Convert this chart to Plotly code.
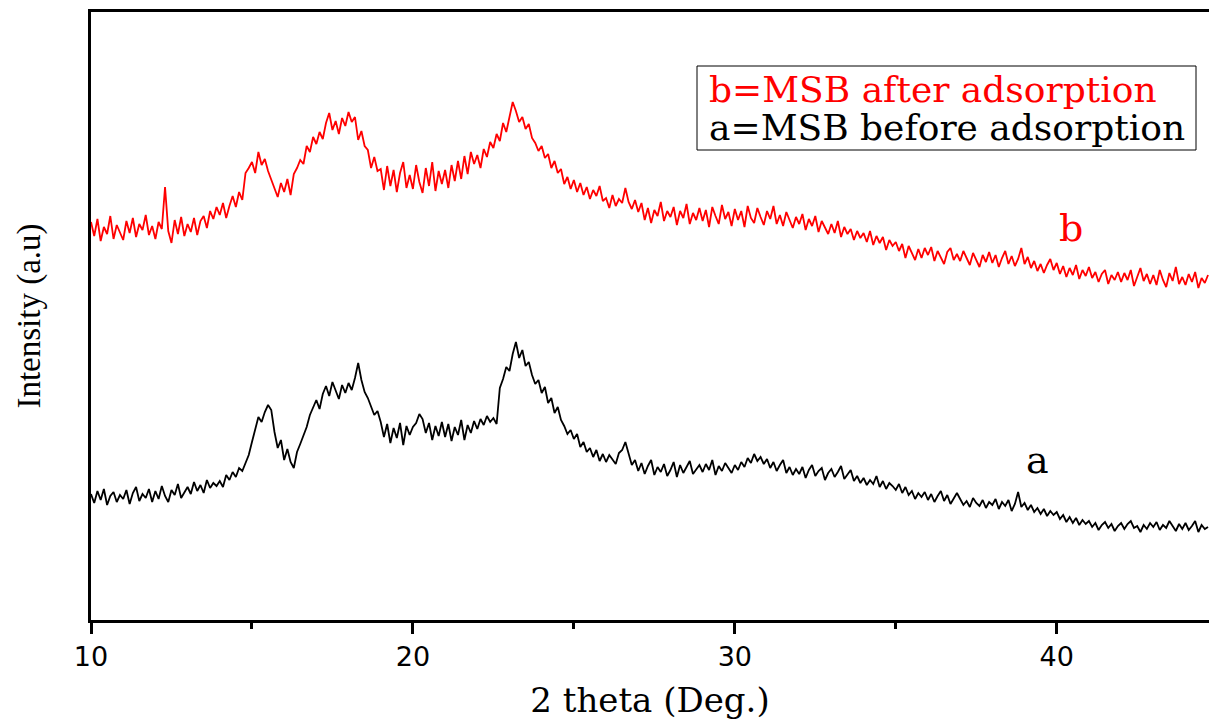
import numpy as np
import plotly.graph_objects as go

# 2-theta sampling (degrees)
two_theta_start = 10.0
two_theta_step = 0.1

# b = MSB after adsorption (red), intensity a.u., one row per degree
msb_after = [
    398, 384, 401, 379, 393, 386, 404, 381, 395, 388,
    380, 399, 387, 402, 383, 396, 390, 405, 385, 394,
    381, 398, 391, 433, 389, 377, 400, 386, 403, 384,
    396, 388, 402, 385, 399, 404, 392, 409, 401, 413,
    405, 417, 402, 414, 424, 413, 428, 420, 447, 452,
    458, 447, 468, 455, 461, 449, 440, 431, 423, 437,
    428, 441, 425, 446, 452, 460, 456, 474, 468, 483,
    476, 488, 481, 497, 507, 490, 499, 486, 502, 494,
    508, 498, 503, 480, 489, 474, 470, 452, 463, 449,
    451, 430, 454, 434, 450, 428, 447, 458, 432, 445,
    431, 455, 438, 427, 452, 434, 458, 429, 449, 436,
    450, 432, 455, 439, 459, 441, 464, 446, 468, 456,
    465, 452, 471, 463, 478, 472, 486, 479, 497, 488,
    505, 518, 509, 498, 503, 491, 496, 482, 477, 469,
    474, 462, 466, 452, 459, 447, 451, 436, 443, 431,
    440, 428, 437, 425, 433, 421, 430, 424, 434, 419,
    422, 412, 425, 414, 421, 417, 432, 418, 411, 420,
    408, 417, 400, 412, 397, 410, 404, 418, 399, 409,
    403, 413, 395, 409, 402, 416, 396, 407, 400, 412,
    399, 410, 393, 413, 404, 396, 415, 401, 408, 394,
    411, 400, 409, 393, 414, 402, 397, 412, 403, 395,
    409, 401, 414, 396, 405, 394, 408, 399, 392, 403,
    396, 406, 390, 401, 394, 404, 388, 399, 393, 386,
    396, 387, 399, 383, 393, 386, 391, 380, 389, 382,
    387, 378, 389, 375, 384, 377, 383, 370, 380, 374,
    378, 369, 376, 362, 374, 366, 360, 371, 362, 372,
    365, 373, 359, 369, 363, 356, 368, 372, 360, 366,
    359, 369, 362, 355, 367, 360, 353, 365, 358, 368,
    357, 365, 353, 362, 369, 356, 364, 354, 361, 372,
    356, 363, 352, 359, 349, 356, 347, 355, 361, 350,
    357, 346, 354, 343, 352, 345, 355, 341, 350, 344,
    353, 342, 348, 338, 346, 350, 336, 345, 340, 348,
    338, 347, 340, 350, 334, 343, 352, 339, 346, 336,
    345, 335, 350, 340, 333, 347, 339, 353, 336, 343,
    335, 346, 338, 348, 332, 342, 337, 345,
]

# a = MSB before adsorption (black), intensity a.u., one row per degree
msb_before = [
    126, 117, 129, 120, 131, 115, 124, 128, 118, 125,
    121, 130, 116, 127, 133, 119, 126, 122, 131, 118,
    129, 121, 134, 124, 118, 130, 125, 136, 122, 128,
    133, 126, 138, 129, 135, 127, 140, 132, 137, 134,
    139, 133, 145, 140, 148, 143, 152, 149, 158, 165,
    178, 192, 203, 198, 208, 215, 210, 188, 172, 180,
    160, 171, 158, 152, 168, 176, 184, 193, 205, 213,
    220, 211, 226, 234, 224, 238, 229, 221, 235, 227,
    237, 230, 242, 257, 240, 228, 222, 214, 205, 209,
    198, 183, 196, 177, 192, 182, 197, 175, 194, 185,
    193, 197, 206, 201, 187, 197, 180, 194, 184, 198,
    183, 196, 179, 193, 185, 200, 180, 195, 187, 199,
    191, 201, 195, 204, 198, 202, 196, 232, 241, 253,
    249, 266, 278, 262, 270, 254, 258, 245, 236, 240,
    227, 233, 217, 222, 207, 213, 200, 194, 186, 190,
    181, 186, 173, 178, 168, 172, 163, 170, 159, 166,
    158, 165, 161, 156, 167, 170, 178, 165, 155, 160,
    149, 157, 146, 154, 160, 145, 153, 148, 156, 144,
    150, 158, 143, 155, 147, 153, 159, 146, 151, 155,
    148, 156, 150, 160, 145, 154, 149, 157, 152, 147,
    155, 150, 158, 153, 162, 157, 166, 159, 163, 156,
    161, 152, 158, 149, 155, 160, 147, 153, 145, 151,
    146, 153, 142, 150, 155, 144, 149, 152, 140, 147,
    151, 143, 148, 154, 141, 146, 150, 139, 144, 137,
    142, 135, 140, 136, 144, 133, 139, 131, 137, 134,
    130, 136, 127, 133, 125, 129, 121, 127, 123, 128,
    120, 126, 118, 124, 129, 119, 125, 116, 122, 127,
    121, 115, 119, 113, 122, 117, 114, 120, 112, 118,
    115, 121, 111, 118, 114, 120, 109, 116, 128, 113,
    117, 110, 115, 108, 112, 106, 111, 104, 109, 105,
    108, 101, 105, 98, 103, 97, 102, 95, 100, 96,
    99, 93, 97, 90, 95, 98, 92, 96, 89, 94,
    97, 91, 96, 99, 92, 94, 88, 95, 91, 97,
    93, 98, 90, 95, 92, 99, 94, 89, 96, 91,
    97, 90, 94, 99, 88, 95, 91, 93,
]

x_ticks = [10, 20, 30, 40]
x_tick_labels = ["10", "20", "30", "40"]

legend_after = "b=MSB after adsorption"
legend_before = "a=MSB before adsorption"
label_after = "b"
label_before = "a"
label_after_pos = (40.43, 392)
label_before_pos = (39.39, 160)

x_after = np.round(two_theta_start + two_theta_step * np.arange(len(msb_after)), 2)
x_before = np.round(two_theta_start + two_theta_step * np.arange(len(msb_before)), 2)

fig = go.Figure()
fig.add_trace(go.Scatter(x=x_before, y=msb_before, mode="lines",
                         line=dict(color="black", width=1.8), name=legend_before,
                         showlegend=False))
fig.add_trace(go.Scatter(x=x_after, y=msb_after, mode="lines",
                         line=dict(color="#ff0000", width=1.8), name=legend_after,
                         showlegend=False))

serif = "DejaVu Serif"

fig.add_annotation(x=label_after_pos[0], y=label_after_pos[1], text=label_after,
                   showarrow=False, font=dict(family=serif, size=38, color="#ff0000"))
fig.add_annotation(x=label_before_pos[0], y=label_before_pos[1], text=label_before,
                   showarrow=False, font=dict(family=serif, size=38, color="black"))

# legend box (paper coordinates derived from the plot frame)
px_w, px_h, left_px, bottom_px = 1118, 608, 91, 620
def px_x(p):
    return (p - left_px) / px_w
def px_y(p):
    return (bottom_px - p) / px_h

fig.add_shape(type="rect", xref="paper", yref="paper",
              x0=px_x(697), x1=px_x(1196), y0=px_y(150), y1=px_y(66),
              line=dict(color="black", width=1), fillcolor="white", layer="above")
fig.add_annotation(xref="paper", yref="paper", x=px_x(707), y=px_y(89),
                   xanchor="left", yanchor="middle", showarrow=False, text=legend_after,
                   font=dict(family=serif, size=36, color="#ff0000"))
fig.add_annotation(xref="paper", yref="paper", x=px_x(707), y=px_y(127),
                   xanchor="left", yanchor="middle", showarrow=False, text=legend_before,
                   font=dict(family=serif, size=36, color="black"))

fig.update_layout(
    width=1209, height=720,
    margin=dict(l=91, r=0, t=12, b=100),
    plot_bgcolor="white", paper_bgcolor="white",
    showlegend=False,
)
fig.update_xaxes(
    range=[10, 44.73], tickvals=x_ticks, ticktext=x_tick_labels,
    ticks="outside", ticklen=11, tickwidth=3, tickcolor="black",
    minor=dict(dtick=5, tick0=10, ticks="outside", ticklen=6, tickwidth=3, tickcolor="black"),
    showline=True, linewidth=3, linecolor="black", mirror=True,
    showgrid=False, zeroline=False,
    tickfont=dict(family="DejaVu Sans", size=27, color="black"),
    title=dict(text="2 theta (Deg.)", font=dict(family=serif, size=34, color="black"), standoff=19),
)
fig.update_yaxes(
    range=[0, 608], showticklabels=False, ticks="",
    showline=True, linewidth=3, linecolor="black", mirror=False,
    showgrid=False, zeroline=False,
    title=dict(text="Intensity (a.u)", font=dict(family="Liberation Serif", size=33, color="black"), standoff=38),
)

fig.write_html("out.html")
